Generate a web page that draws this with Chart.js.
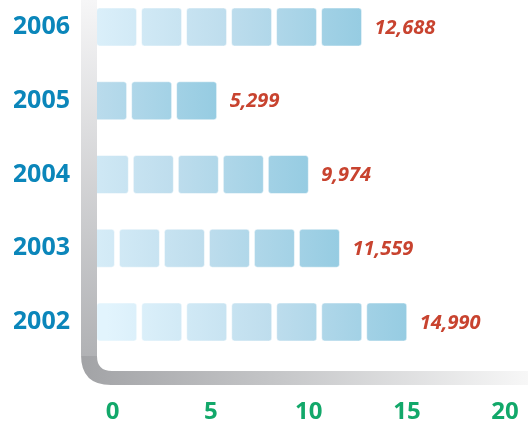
<!DOCTYPE html>
<html>
<head>
<meta charset="utf-8">
<script src="https://cdn.jsdelivr.net/npm/chart.js@4/dist/chart.umd.min.js"></script>
<style>
  html, body { margin: 0; padding: 0; background: #fff; overflow: hidden; }
  canvas { display: block; }
</style>
</head>
<body>
<canvas id="barChart" width="528" height="423"></canvas>
<script>
// values in thousands
const years = ['2006', '2005', '2004', '2003', '2002'];
const amounts = [12.688, 5.299, 9.974, 11.559, 14.990];
const xTicks = [0, 5, 10, 15, 20];

// grey L-shaped axis behind the bars
const cornerAxis = {
    id: 'cornerAxis',
    beforeDatasetsDraw(chart) {
        const ctx = chart.ctx;
        const a = chart.chartArea;
        const inX = a.left, outX = a.left - 16;
        const inY = a.bottom + 49, outY = a.bottom + 63;
        const rOut = 30, rIn = 15;
        ctx.save();
        ctx.beginPath();
        ctx.moveTo(outX, 0);
        ctx.lineTo(outX, outY - rOut);
        ctx.quadraticCurveTo(outX, outY, outX + rOut, outY);
        ctx.lineTo(chart.width, outY);
        ctx.lineTo(chart.width, inY);
        ctx.lineTo(inX + rIn, inY);
        ctx.quadraticCurveTo(inX, inY, inX, inY - rIn);
        ctx.lineTo(inX, 0);
        ctx.closePath();
        ctx.clip();
        let g = ctx.createLinearGradient(0, 0, 0, inY);
        g.addColorStop(0, '#f6f6f7');
        g.addColorStop(1, '#aeafb2');
        ctx.fillStyle = g;
        ctx.fillRect(outX, 0, inX - outX, inY - rIn);
        g = ctx.createLinearGradient(outX, 0, chart.width, 0);
        g.addColorStop(0, '#a2a3a6');
        g.addColorStop(0.45, '#c6c7c9');
        g.addColorStop(1, '#f7f7f7');
        ctx.fillStyle = g;
        ctx.fillRect(outX, inY - rIn, chart.width - outX, outY - inY + rIn + 1);
        ctx.restore();
    }
};

// segmented bars and value labels
const segmentBars = {
    id: 'segmentBars',
    afterDatasetsDraw(chart) {
        const ctx = chart.ctx;
        const a = chart.chartArea;
        const meta = chart.getDatasetMeta(0);
        const w = 40, gap = 5;
        meta.data.forEach((bar, i) => {
            const end = bar.x;
            const h = bar.height;
            const top = bar.y - h / 2;
            ctx.save();
            ctx.beginPath();
            ctx.rect(a.left, 0, chart.width, chart.height);
            ctx.clip();
            const g = ctx.createLinearGradient(end - 300, 0, end, 0);
            g.addColorStop(0, '#e2f4fd');
            g.addColorStop(0.55, '#bedded');
            g.addColorStop(1, '#96cce2');
            ctx.fillStyle = g;
            ctx.strokeStyle = 'rgba(255,255,255,0.5)';
            ctx.lineWidth = 1;
            for (let r = end; r > a.left; r -= w + gap) {
                ctx.beginPath();
                ctx.roundRect(r - w, top, w, h, 3);
                ctx.fill();
                ctx.stroke();
            }
            ctx.restore();

            ctx.save();
            ctx.font = 'italic bold 20px "Open Sans"';
            ctx.fillStyle = '#c8432f';
            ctx.textAlign = 'left';
            ctx.textBaseline = 'middle';
            const txt = Math.round(amounts[i] * 1000).toLocaleString('en-US');
            ctx.fillText(txt, end + 13, bar.y + 1);
            ctx.restore();
        });
    }
};

new Chart(document.getElementById('barChart').getContext('2d'), {
    type: 'bar',
    data: {
        labels: years,
        datasets: [{
            data: amounts,
            backgroundColor: 'rgba(0,0,0,0)',
            barThickness: 38,
            clip: false
        }]
    },
    options: {
        indexAxis: 'y',
        responsive: false,
        animation: false,
        events: [],
        layout: { padding: { top: 27, left: 14, right: 23, bottom: 0 } },
        plugins: { legend: { display: false }, tooltip: { enabled: false } },
        scales: {
            x: {
                min: -0.8,
                max: 20,
                afterBuildTicks(axis) {
                    axis.ticks = xTicks.map(v => ({ value: v }));
                },
                afterFit(scale) {
                    scale.paddingLeft = 0;
                    scale.paddingRight = 0;
                    scale.height = 101;
                },
                grid: { display: false },
                border: { display: false },
                ticks: {
                    padding: 68,
                    maxRotation: 0,
                    autoSkip: false,
                    color: '#12a86a',
                    font: { family: 'Open Sans', weight: 'bold', size: 24 }
                }
            },
            y: {
                offset: false,
                afterFit(scale) {
                    scale.paddingTop = 0;
                    scale.paddingBottom = 0;
                    scale.width = 83;
                },
                grid: { display: false },
                border: { display: false },
                ticks: {
                    padding: 19,
                    color: '#0b86ba',
                    font: { family: 'Open Sans', weight: 'bold', size: 25 }
                }
            }
        }
    },
    plugins: [cornerAxis, segmentBars]
});
</script>
</body>
</html>
